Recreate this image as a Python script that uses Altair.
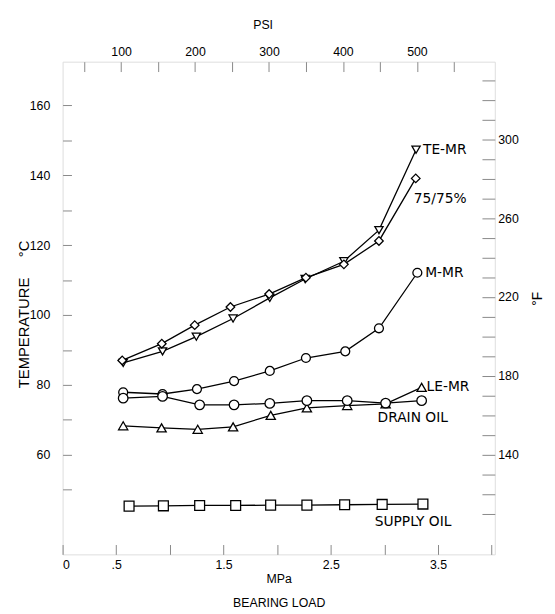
import altair as alt
import pandas as pd

# ---------------- data ----------------
series_names = ["TE-MR", "75/75%", "M-MR", "LE-MR", "DRAIN OIL", "SUPPLY OIL"]

te_x = [0.565, 0.932, 1.247, 1.59, 1.932, 2.262, 2.623, 2.95, 3.296]
te_y = [86.3, 89.6, 93.8, 99.0, 104.9, 110.3, 115.4, 124.3, 147.3]

d75_x = [0.556, 0.925, 1.232, 1.565, 1.926, 2.269, 2.623, 2.95, 3.293]
d75_y = [87.0, 91.8, 97.1, 102.3, 106.0, 110.7, 114.5, 121.2, 139.1]

mmr_x = [0.565, 0.932, 1.253, 1.599, 1.932, 2.269, 2.636, 2.95, 3.308]
mmr_y = [77.9, 77.4, 78.8, 81.1, 84.0, 87.7, 89.6, 96.2, 112.1]

le_x = [0.565, 0.923, 1.26, 1.59, 1.941, 2.278, 2.654, 3.012, 3.348]
le_y = [68.3, 67.7, 67.3, 68.0, 71.3, 73.4, 74.1, 74.6, 79.3]

drain_x = [0.565, 0.932, 1.278, 1.599, 1.932, 2.278, 2.654, 3.012, 3.348]
drain_y = [76.2, 76.7, 74.3, 74.3, 74.7, 75.5, 75.5, 74.8, 75.5]

supply_x = [0.62, 0.94, 1.278, 1.614, 1.94, 2.278, 2.63, 2.98, 3.36]
supply_y = [45.3, 45.4, 45.5, 45.5, 45.6, 45.6, 45.7, 45.8, 45.9]

# axis ticks / labels
c_ticks = [50, 60, 70, 80, 90, 100, 110, 120, 130, 140, 150, 160]
mpa_ticks = [0, 0.5, 1.0, 1.5, 2.0, 2.5, 3.0, 3.5, 4.0]
psi_ticks = [50, 100, 150, 200, 250, 300, 350, 400, 450, 500, 550]
f_ticks = [110, 120, 130, 140, 150, 160, 170, 180, 190, 200, 210, 220, 230,
           240, 250, 260, 270, 280, 290, 300, 310, 320, 330]

# scale extents as drawn
MPA_DOM = [0, 4.03]
C_DOM = [31.5, 172.5]
PSI_DOM = [20.9, 605.3]
F_DOM = [89.35, 339.35]

# ---------------- tables ----------------
xs_all = [te_x, d75_x, mmr_x, le_x, drain_x, supply_x]
ys_all = [te_y, d75_y, mmr_y, le_y, drain_y, supply_y]
rows = []
for name, xs, ys in zip(series_names, xs_all, ys_all):
    for i, (xv, yv) in enumerate(zip(xs, ys)):
        rows.append({"series": name, "mpa": xv, "temp": yv, "idx": i})
df = pd.DataFrame(rows)

shape_range = ["triangle-down", "diamond", "circle", "triangle-up", "circle", "square"]
size_range = [70, 100, 90, 64, 90, 64]

FONT = "DejaVu Sans"
W, H = 438.6, 500

x_enc = alt.X("mpa:Q", scale=alt.Scale(domain=MPA_DOM, nice=False, zero=False),
              axis=alt.Axis(orient="bottom", values=mpa_ticks, offset=-10, tickSize=10,
                            domain=False, grid=False,
                            labelPadding=4, labelFontSize=12.5,
                            labelExpr="datum.value == 0 ? '0' : datum.value == 0.5 ? '.5' : "
                                      "(datum.value == 1.5 || datum.value == 2.5 || datum.value == 3.5) ? "
                                      "format(datum.value, '.1f') : ''",
                            title=["MPa", "BEARING LOAD"], titleFontSize=12.5,
                            titleFontWeight="normal", titleLineHeight=24,
                            titleBaseline="top", titleY=29))
y_enc = alt.Y("temp:Q", scale=alt.Scale(domain=C_DOM, nice=False, zero=False),
              axis=alt.Axis(orient="left", values=c_ticks, offset=-9, tickSize=9,
                            domain=False, grid=False,
                            labelPadding=13, labelFontSize=12.5,
                            labelExpr="(datum.value % 20 == 0 && datum.value >= 60) ? datum.label : ''",
                            title="TEMPERATURE\u00a0\u00a0\u00a0\u00a0\u00a0°C", titleFontSize=15,
                            titleFontWeight="normal", titleAngle=270,
                            titleBaseline="middle", titleX=-49, titleY=256))

lines = alt.Chart(df).mark_line(color="black", strokeWidth=1.3).encode(
    x=x_enc, y=y_enc, detail="series:N", order="idx:Q")

points = alt.Chart(df).mark_point(filled=True, fill="white", stroke="black",
                                  strokeWidth=1.3, opacity=1).encode(
    x="mpa:Q", y="temp:Q",
    shape=alt.Shape("series:N", scale=alt.Scale(domain=series_names, range=shape_range), legend=None),
    size=alt.Size("series:N", scale=alt.Scale(domain=series_names, range=size_range), legend=None))

# series labels anchored to each series' last point
label_style = {
    "TE-MR": dict(align="left", dx=7, dy=0),
    "75/75%": dict(align="left", dx=-2, dy=21),
    "M-MR": dict(align="left", dx=8, dy=0),
    "LE-MR": dict(align="left", dx=5, dy=0),
    "DRAIN OIL": dict(align="center", dx=-9, dy=18),
    "SUPPLY OIL": dict(align="center", dx=-10, dy=18),
}
last = df.sort_values("idx").groupby("series", as_index=False).last()
texts = []
for name in series_names:
    st = label_style[name]
    texts.append(
        alt.Chart(last[last["series"] == name]).mark_text(
            font=FONT, fontSize=14, color="black", baseline="middle", **st
        ).encode(x="mpa:Q", y="temp:Q", text="series:N")
    )

main = alt.layer(lines, points, *texts)

# secondary (PSI top / degF right) scales
sec = pd.DataFrame({"psi": PSI_DOM, "degF": F_DOM})
secondary = alt.Chart(sec).mark_point(opacity=0).encode(
    x=alt.X("psi:Q", scale=alt.Scale(domain=PSI_DOM, nice=False, zero=False),
            axis=alt.Axis(orient="top", values=psi_ticks, offset=-10, tickSize=10,
                          domain=False, grid=False,
                          labelPadding=3, labelFontSize=12.5,
                          labelExpr="(datum.value % 100 == 0 && datum.value <= 500) ? datum.label : ''",
                          title="PSI", titleFontSize=12.5, titleFontWeight="normal",
                          titleBaseline="middle", titleX=203, titleY=-48)),
    y=alt.Y("degF:Q", scale=alt.Scale(domain=F_DOM, nice=False, zero=False),
            axis=alt.Axis(orient="right", values=f_ticks, offset=-13, tickSize=13,
                          domain=False, grid=False,
                          labelPadding=3, labelFontSize=12.5,
                          labelExpr="((datum.value - 140) % 40 == 0 && datum.value >= 140 && datum.value <= 300) ? datum.label : ''",
                          title="°F", titleFontSize=14, titleFontWeight="normal",
                          titleAngle=270, titleBaseline="middle", titleX=56, titleY=240)),
)

chart = alt.layer(main, secondary).resolve_scale(
    x="independent", y="independent"
).properties(
    width=W, height=H,
    autosize=alt.AutoSizeParams(type="none"),
    padding={"left": 55.4, "top": 50, "right": 53, "bottom": 55},
).configure_view(
    stroke="black", strokeWidth=1.5
).configure_axis(
    domain=False, grid=False, tickColor="black", tickWidth=1.3,
    labelColor="black", titleColor="black", labelFont=FONT, titleFont=FONT,
).configure(background="white")

chart.save("out.html", embed_options={"renderer": "svg", "actions": False})
